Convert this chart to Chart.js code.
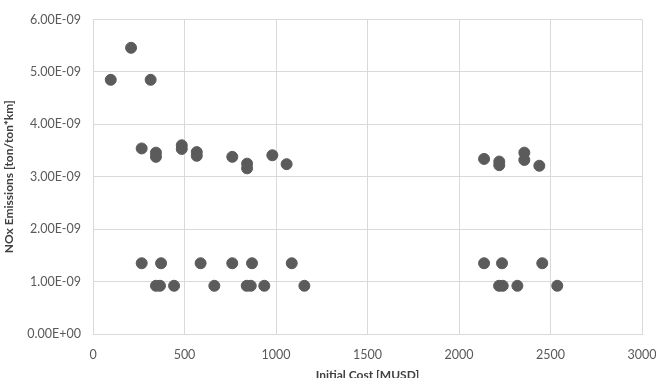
<!DOCTYPE html>
<html lang="en">
  <head>
    <meta charset="UTF-8" />
    <title>NOx Emissions vs Initial Cost</title>
    <script src="https://cdn.jsdelivr.net/npm/chart.js"></script>
    <style>
      html, body {
        margin: 0;
        padding: 0;
        background: #ffffff;
        overflow: hidden;
      }
      #wrap {
        width: 656px;
        height: 390px;
      }
    </style>
  </head>
  <body>
    <div id="wrap">
      <canvas id="scatterChart" width="656" height="390"></canvas>
    </div>

    <script>
      // initial cost [MUSD]
      const initialCost = [
        97, 208, 315, 266, 344, 344, 485, 485, 567, 567, 761, 842, 842, 980, 1058,
        2137, 2220, 2220, 2357, 2357, 2439,
        266, 372, 588, 761, 869, 1086, 2137, 2235, 2455,
        344, 366, 443, 663, 840, 862, 936, 1155, 2219, 2239, 2319, 2537,
      ];

      // NOx emissions [ton/ton*km]
      const noxEmissions = [
        4.85e-9, 5.46e-9, 4.85e-9, 3.54e-9, 3.46e-9, 3.38e-9, 3.6e-9, 3.53e-9, 3.47e-9, 3.4e-9, 3.38e-9, 3.25e-9, 3.16e-9, 3.41e-9, 3.24e-9,
        3.34e-9, 3.29e-9, 3.22e-9, 3.46e-9, 3.32e-9, 3.21e-9,
        1.35e-9, 1.35e-9, 1.35e-9, 1.35e-9, 1.35e-9, 1.35e-9, 1.35e-9, 1.35e-9, 1.35e-9,
        0.92e-9, 0.92e-9, 0.92e-9, 0.92e-9, 0.92e-9, 0.92e-9, 0.92e-9, 0.92e-9, 0.92e-9, 0.92e-9, 0.92e-9, 0.92e-9,
      ];

      const xTitle = "Initial Cost [MUSD]";
      const yTitle = "NOx Emissions [ton/ton*km]";

      // Excel style scientific labels, e.g. 6.00E-09
      function sciLabel(v) {
        if (Math.abs(v) < 1e-15) return "0.00E+00";
        const parts = v.toExponential(2).split("e");
        const exp = parseInt(parts[1], 10);
        const sign = exp < 0 ? "-" : "+";
        const digits = String(Math.abs(exp)).padStart(2, "0");
        return parts[0] + "E" + sign + digits;
      }

      const points = initialCost.map((c, i) => ({ x: c, y: noxEmissions[i] }));

      const gridColor = "#d9d9d9";
      const tickColor = "#595959";
      const fontFamily = "Lato, 'Open Sans', sans-serif";

      new Chart(document.getElementById("scatterChart"), {
        type: "scatter",
        data: {
          datasets: [
            {
              label: "NOx",
              data: points,
              backgroundColor: "#5b5b5b",
              borderColor: "#5b5b5b",
              pointRadius: 5.5,
              pointHoverRadius: 5.5,
            },
          ],
        },
        options: {
          responsive: false,
          animation: false,
          layout: {
            padding: { top: 9, right: 0, bottom: 0, left: 0 },
          },
          plugins: {
            legend: { display: false },
            tooltip: { enabled: false },
          },
          scales: {
            x: {
              type: "linear",
              min: 0,
              max: 3000,
              afterFit: (scale) => {
                scale.height = 56;
                // keep plot right edge where the reference has it
                scale.paddingRight = 14;
              },
              ticks: {
                stepSize: 500,
                padding: 13,
                color: tickColor,
                font: { family: fontFamily, size: 12.5 },
                maxRotation: 0,
                callback: (value) => String(value),
              },
              grid: {
                color: gridColor,
                lineWidth: 1,
                drawTicks: false,
              },
              border: { color: gridColor },
              title: {
                display: true,
                text: xTitle,
                color: "#404040",
                font: { family: fontFamily, size: 12, weight: "bold" },
                padding: { top: 0, bottom: 8 },
              },
            },
            y: {
              min: 0,
              max: 6e-9,
              afterFit: (scale) => {
                scale.width = 93;
              },
              ticks: {
                stepSize: 1e-9,
                padding: 12,
                color: tickColor,
                font: { family: fontFamily, size: 12.5 },
                callback: (value) => sciLabel(value),
              },
              grid: {
                color: gridColor,
                lineWidth: 1,
                drawTicks: false,
              },
              border: { color: gridColor },
              title: {
                display: true,
                text: yTitle,
                color: "#404040",
                font: { family: fontFamily, size: 12, weight: "bold" },
                padding: { top: 2, bottom: 0 },
              },
            },
          },
        },
      });
    </script>
  </body>
</html>
